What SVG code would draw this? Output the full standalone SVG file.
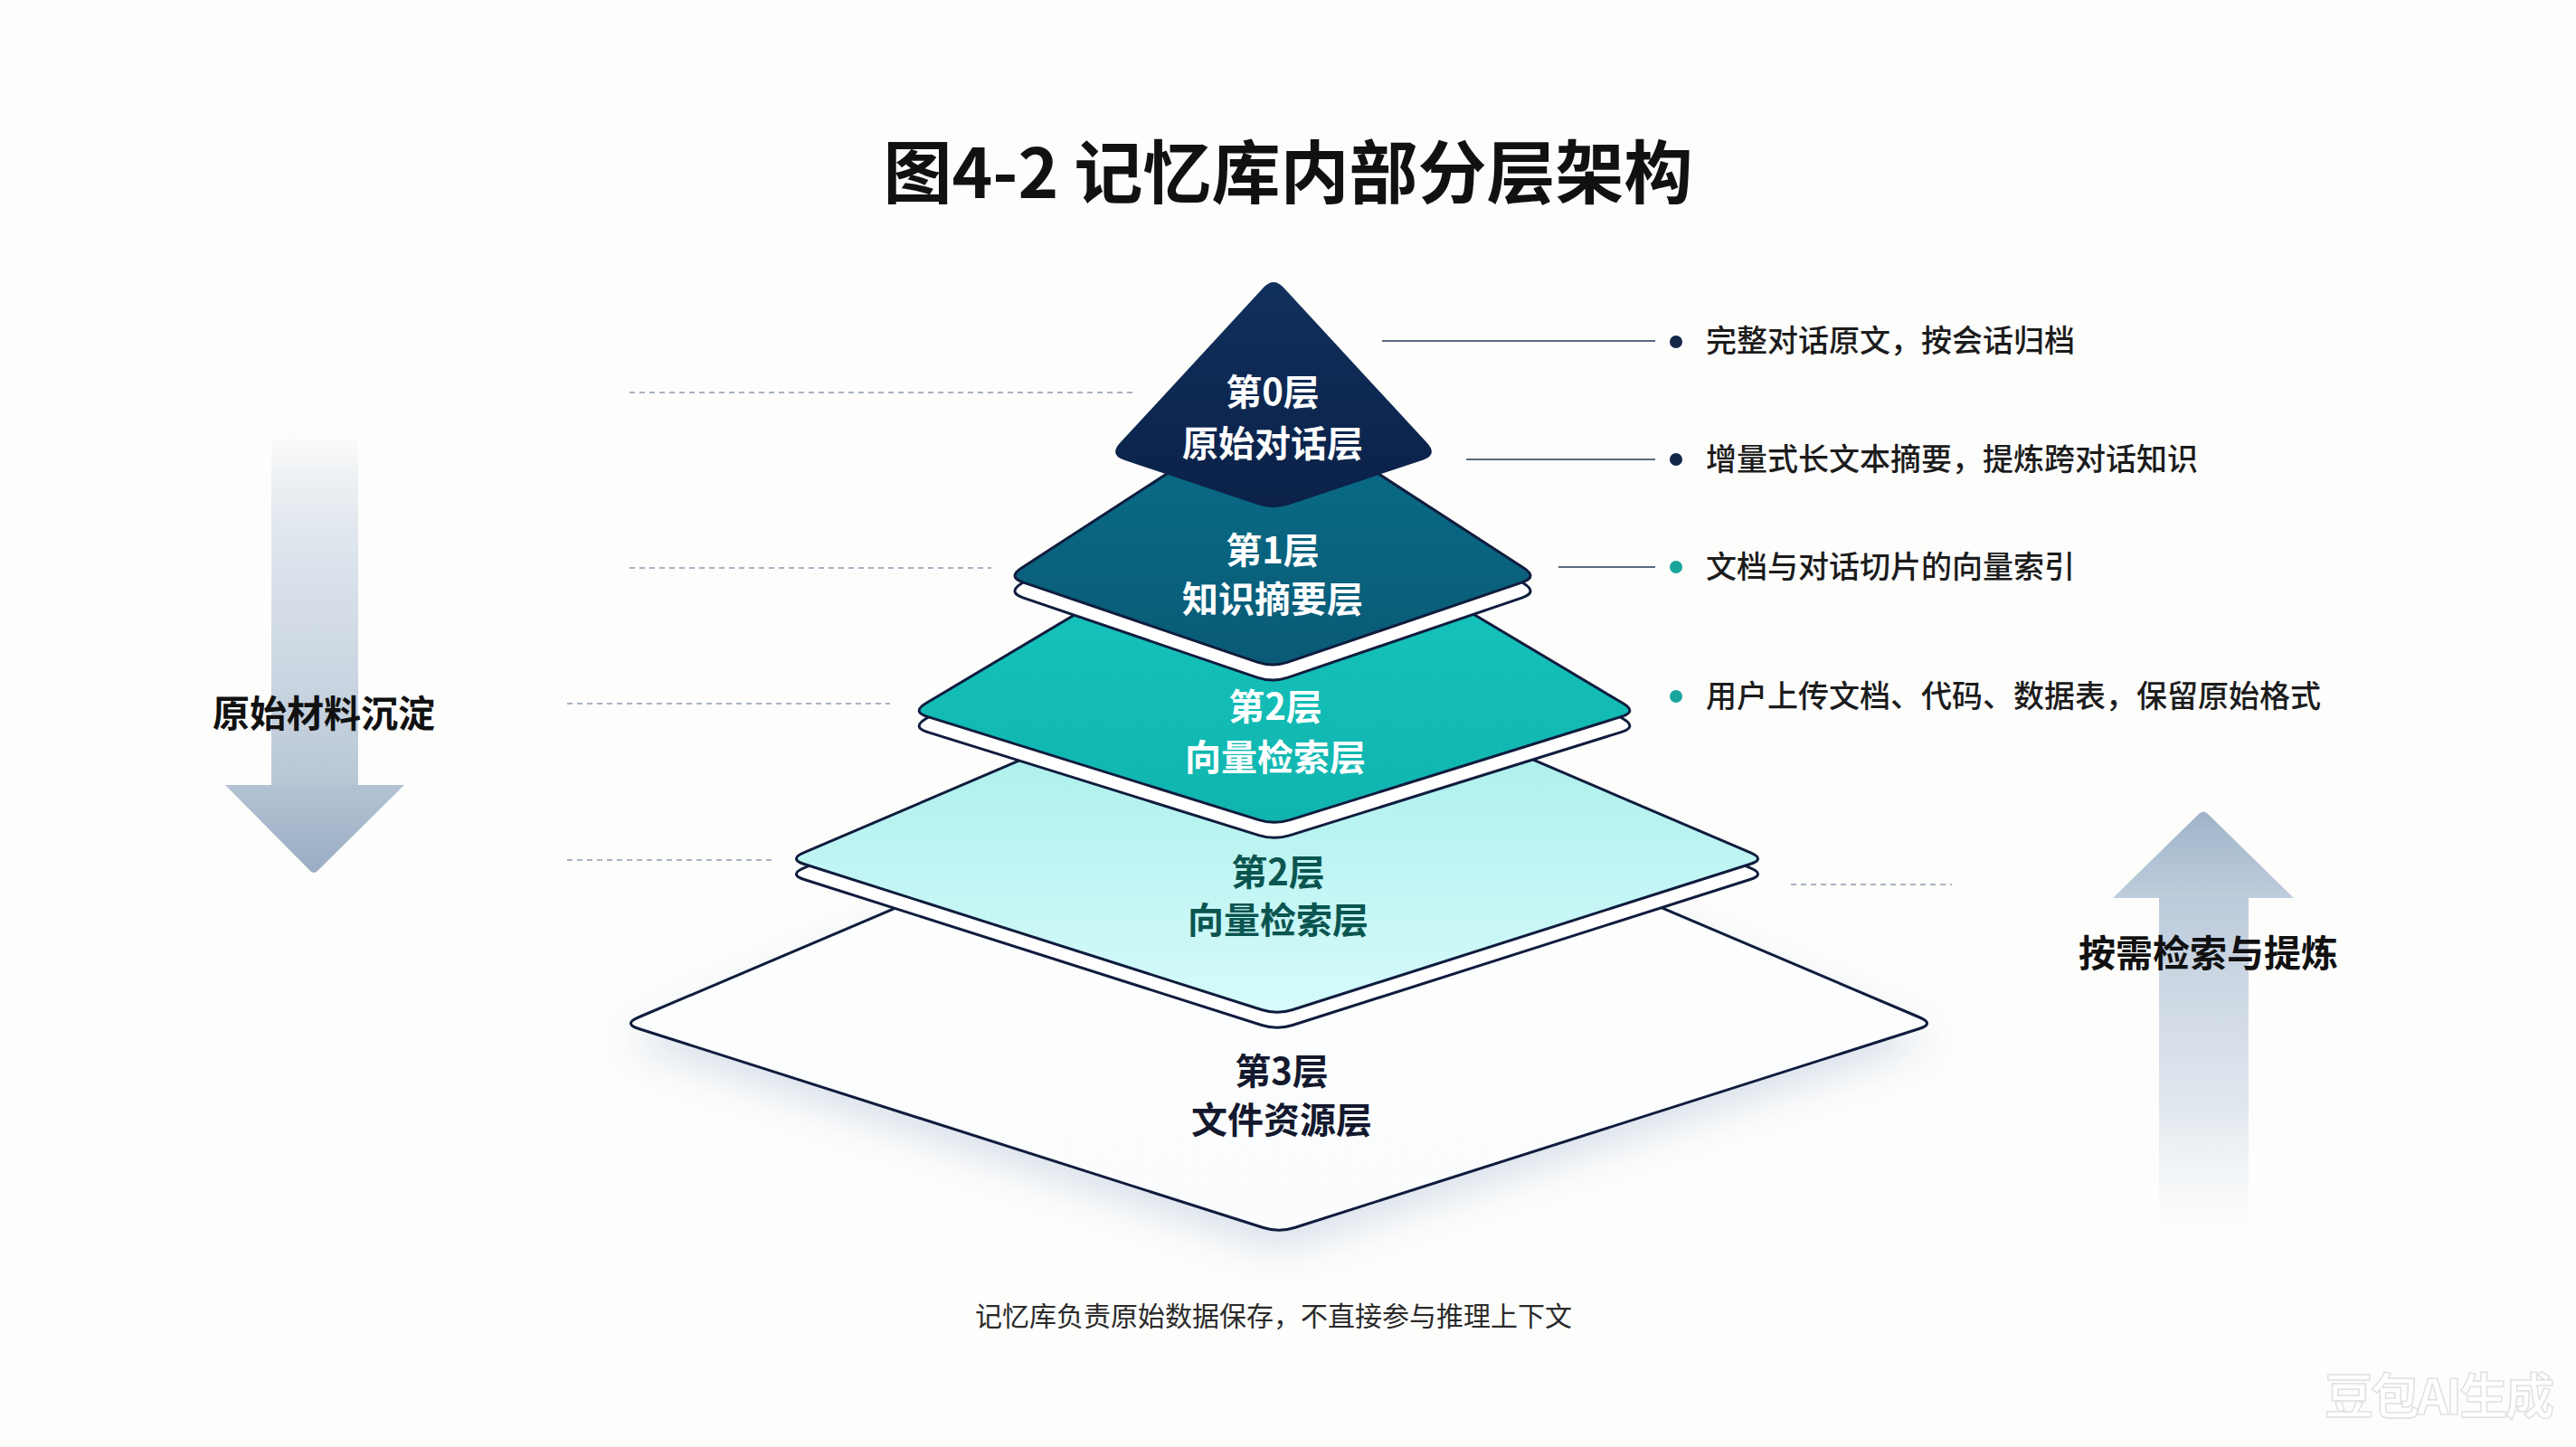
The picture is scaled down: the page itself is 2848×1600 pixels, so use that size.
<svg xmlns="http://www.w3.org/2000/svg" width="2848" height="1600" viewBox="0 0 2848 1600">
<defs>
<style>
.t{font-family:"Noto Sans CJK SC","Noto Sans",sans-serif}
.title{font-size:76px;font-weight:700;fill:#111}
.lab{font-size:40px;font-weight:700;text-anchor:middle}
.side{font-size:41px;font-weight:700;fill:#111}
.desc{font-size:34px;font-weight:500;fill:#1c1c1c}
.cap{font-size:30px;font-weight:400;fill:#2a2a2a;text-anchor:middle}
.edge{stroke:#0f1c3d;stroke-width:3;stroke-linejoin:round}
.dash{stroke:#a7b3c3;stroke-width:2;stroke-dasharray:6 5;fill:none}
.lead{stroke:#5a6a7e;stroke-width:2;fill:none}
</style>
<linearGradient id="g0" x1="0" y1="0" x2="0" y2="1"><stop offset="0" stop-color="#10305c"/><stop offset="1" stop-color="#0b2148"/></linearGradient>
<linearGradient id="g1" x1="0" y1="0" x2="0" y2="1"><stop offset="0" stop-color="#086f8a"/><stop offset="1" stop-color="#0a5a76"/></linearGradient>
<linearGradient id="g2a" x1="0" y1="0" x2="0" y2="1"><stop offset="0" stop-color="#17c9c0"/><stop offset="1" stop-color="#10b4ae"/></linearGradient>
<linearGradient id="g2b" x1="0" y1="0" x2="0" y2="1"><stop offset="0" stop-color="#9eece7"/><stop offset="1" stop-color="#d6fbfb"/></linearGradient>
<linearGradient id="g3" x1="0" y1="0" x2="0" y2="1"><stop offset="0" stop-color="#ffffff"/><stop offset="1" stop-color="#fafcfd"/></linearGradient>
<linearGradient id="shaftDown" x1="0" y1="0" x2="0" y2="1"><stop offset="0" stop-color="#c3cfdd" stop-opacity="0"/><stop offset="0.35" stop-color="#d3dde8" stop-opacity="0.8"/><stop offset="1" stop-color="#b8c6d6"/></linearGradient>
<linearGradient id="headDown" x1="0" y1="0" x2="0" y2="1"><stop offset="0" stop-color="#b3c2d3"/><stop offset="1" stop-color="#9aadc3"/></linearGradient>
<linearGradient id="shaftUp" x1="0" y1="0" x2="0" y2="1"><stop offset="0" stop-color="#bccadb"/><stop offset="0.6" stop-color="#d7e0ea" stop-opacity="0.8"/><stop offset="1" stop-color="#e6ecf2" stop-opacity="0"/></linearGradient>
<linearGradient id="headUp" x1="0" y1="0" x2="0" y2="1"><stop offset="0" stop-color="#9fb3c9"/><stop offset="1" stop-color="#bfcddc"/></linearGradient>
<filter id="shadow" x="-20%" y="-20%" width="140%" height="160%"><feGaussianBlur stdDeviation="22"/></filter>
</defs>
<rect width="2848" height="1600" fill="#fdfdfc"/>

<text class="t title" x="1424" y="219" text-anchor="middle">图4-2 记忆库内部分层架构</text>

<g id="arrow-down">
<rect x="300" y="480" width="96" height="389" fill="url(#shaftDown)"/>
<path d="M249,868 L447,868 L352,962 Q347,968 342,962 Z" fill="url(#headDown)"/>
<text class="t side" x="235" y="804">原始材料沉淀</text>
</g>

<g id="arrow-up">
<rect x="2387" y="992" width="99" height="372" fill="url(#shaftUp)"/>
<path d="M2336,993 L2536,993 L2441,900 Q2436,895 2431,900 Z" fill="url(#headUp)"/>
<text class="t side" x="2298" y="1069">按需检索与提炼</text>
</g>

<g id="connectors">
<line class="dash" x1="696" y1="434" x2="1254" y2="434"/>
<line class="dash" x1="696" y1="628" x2="1096" y2="628"/>
<line class="dash" x1="627" y1="778" x2="984" y2="778"/>
<line class="dash" x1="627" y1="951" x2="853" y2="951"/>
<line class="dash" x1="1980" y1="978" x2="2158" y2="978"/>
<line class="lead" x1="1528" y1="377" x2="1830" y2="377"/>
<line class="lead" x1="1621" y1="508" x2="1830" y2="508"/>
<line class="lead" x1="1723" y1="627" x2="1830" y2="627"/>
</g>

<g id="layer3">
<path d="M1430.6,851 L2122.4,1145 Q2139,1152 2121.8,1157.5 L1431.2,1377.5 Q1414,1383 1396.8,1377.5 L706.2,1157.5 Q689,1152 705.6,1145 L1397.4,851 Q1414,844 1430.6,851 Z" fill="#aebfd6" opacity="0.45" filter="url(#shadow)"/>
<path class="edge" d="M1430.6,831 L2122.4,1125 Q2139,1132 2121.8,1137.5 L1431.2,1357.5 Q1414,1363 1396.8,1357.5 L706.2,1137.5 Q689,1132 705.6,1125 L1397.4,831 Q1414,824 1430.6,831 Z" fill="url(#g3)"/>
<text class="t lab" x="1417" y="1199" fill="#14192e">第3层</text>
<text class="t lab" x="1417" y="1253" fill="#14192e">文件资源层</text>
</g>

<g id="layer2b">
<path class="edge" transform="translate(0,17)" d="M1428.5,726.1 L1935.5,942.9 Q1952,950 1934.8,955.5 L1429.2,1116.5 Q1412,1122 1394.8,1116.5 L889.2,955.5 Q872,950 888.5,942.9 L1395.5,726.1 Q1412,719 1428.5,726.1 Z" fill="#ffffff"/>
<path class="edge" d="M1428.5,726.1 L1935.5,942.9 Q1952,950 1934.8,955.5 L1429.2,1116.5 Q1412,1122 1394.8,1116.5 L889.2,955.5 Q872,950 888.5,942.9 L1395.5,726.1 Q1412,719 1428.5,726.1 Z" fill="url(#g2b)"/>
<text class="t lab" x="1413" y="979" fill="#0b5550">第2层</text>
<text class="t lab" x="1413" y="1032" fill="#0b5550">向量检索层</text>
</g>

<g id="layer2a">
<path class="edge" transform="translate(0,17)" d="M1424.5,557.2 L1794.5,777.8 Q1810,787 1792.8,792.4 L1426.2,906.6 Q1409,912 1391.8,906.6 L1025.2,792.4 Q1008,787 1023.5,777.8 L1393.5,557.2 Q1409,548 1424.5,557.2 Z" fill="#ffffff"/>
<path class="edge" d="M1424.5,557.2 L1794.5,777.8 Q1810,787 1792.8,792.4 L1426.2,906.6 Q1409,912 1391.8,906.6 L1025.2,792.4 Q1008,787 1023.5,777.8 L1393.5,557.2 Q1409,548 1424.5,557.2 Z" fill="url(#g2a)"/>
<text class="t lab" x="1410" y="796" fill="#ffffff">第2层</text>
<text class="t lab" x="1410" y="852" fill="#ffffff">向量检索层</text>
</g>

<g id="layer1">
<path class="edge" transform="translate(0,17)" d="M1422.1,457.8 L1684.9,628.2 Q1700,638 1683,643.8 L1424,732.2 Q1407,738 1390,732.2 L1131,643.8 Q1114,638 1129.1,628.2 L1391.9,457.8 Q1407,448 1422.1,457.8 Z" fill="#ffffff"/>
<path class="edge" d="M1422.1,457.8 L1684.9,628.2 Q1700,638 1683,643.8 L1424,732.2 Q1407,738 1390,732.2 L1131,643.8 Q1114,638 1129.1,628.2 L1391.9,457.8 Q1407,448 1422.1,457.8 Z" fill="url(#g1)"/>
<text class="t lab" x="1407" y="623" fill="#ffffff">第1层</text>
<text class="t lab" x="1407" y="677" fill="#ffffff">知识摘要层</text>
</g>

<g id="layer0">
<path d="M1418.9,317.8 L1577.8,489.8 Q1590,503 1572.9,508.7 L1425.1,558.3 Q1408,564 1390.9,558.3 L1243.1,508.7 Q1226,503 1238.2,489.8 L1397.1,317.8 Q1408,306 1418.9,317.8 Z" fill="url(#g0)"/>
<text class="t lab" x="1407" y="448" fill="#ffffff">第0层</text>
<text class="t lab" x="1407" y="505" fill="#ffffff">原始对话层</text>
</g>

<g id="descriptions">
<circle cx="1853" cy="378" r="7" fill="#14284b"/>
<text class="t desc" x="1886" y="389">完整对话原文，按会话归档</text>
<circle cx="1853" cy="508" r="7" fill="#14284b"/>
<text class="t desc" x="1886" y="520">增量式长文本摘要，提炼跨对话知识</text>
<circle cx="1853" cy="627" r="7" fill="#1aa59c"/>
<text class="t desc" x="1886" y="639">文档与对话切片的向量索引</text>
<circle cx="1853" cy="770" r="7" fill="#1aa59c"/>
<text class="t desc" x="1886" y="782">用户上传文档、代码、数据表，保留原始格式</text>
</g>

<text class="t cap" x="1408" y="1466">记忆库负责原始数据保存，不直接参与推理上下文</text>

<text class="t" x="2570" y="1564" font-size="54" font-weight="700" fill="#ffffff" stroke="#e0e0e0" stroke-width="1.5" textLength="254">豆包AI生成</text>
</svg>
